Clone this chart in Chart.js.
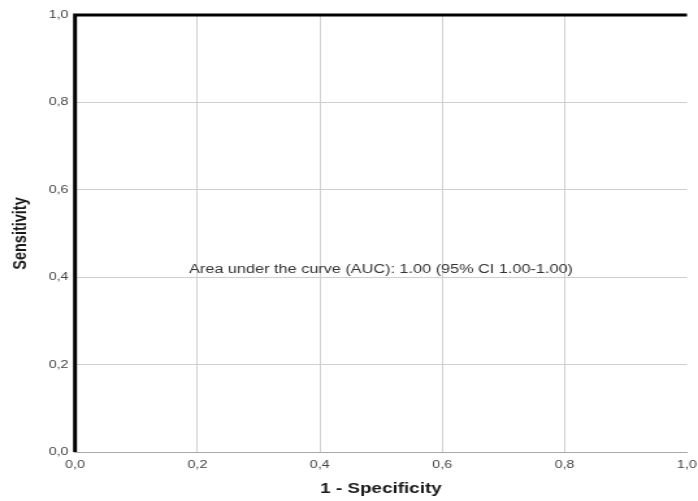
<!DOCTYPE html>
<html>
<head>
<meta charset="utf-8">
<script src="https://cdn.jsdelivr.net/npm/chart.js@4/dist/chart.umd.min.js"></script>
<style>
  html, body { margin: 0; padding: 0; background: #ffffff; overflow: hidden; }
  #wrap { width: 698px; height: 501px; overflow: hidden; }
  /* the figure is laid out narrower and widened to the page width */
  #roc { display: block; transform: scaleX(1.2998); transform-origin: 0 0; }
</style>
</head>
<body>
<div id="wrap"><canvas id="roc" width="537" height="501"></canvas></div>
<script>
// ROC curve points: false positive rate (1 - specificity) vs sensitivity
const falsePositiveRate = [0, 0, 1];
const truePositiveRate = [0, 1, 1];

// axis ticks
const tickValues = [0, 0.2, 0.4, 0.6, 0.8, 1.0];
const tickLabels = ['0,0', '0,2', '0,4', '0,6', '0,8', '1,0'];

// area under the curve with its 95% confidence interval
const auc = 1.00;
const aucCiLow = 1.00;
const aucCiHigh = 1.00;
const aucLabelPos = { x: 0.5, y: 0.418 };

const aucText = 'Area under the curve (AUC): ' + auc.toFixed(2) +
  ' (95% CI ' + aucCiLow.toFixed(2) + '-' + aucCiHigh.toFixed(2) + ')';

const FONT = "'Liberation Sans', Arial, sans-serif";

const aucLabel = {
  id: 'aucLabel',
  afterDatasetsDraw(chart) {
    const { ctx, scales } = chart;
    const x = scales.x.getPixelForValue(aucLabelPos.x);
    const y = scales.y.getPixelForValue(aucLabelPos.y);
    ctx.save();
    ctx.font = '12.5px ' + FONT;
    ctx.fillStyle = '#333333';
    ctx.textAlign = 'center';
    ctx.textBaseline = 'middle';
    ctx.fillText(aucText, x, y);
    ctx.restore();
  }
};

const fixedTicks = (scale) => {
  scale.ticks = tickValues.map(v => ({ value: v }));
};
const tickLabel = (value) => {
  const i = tickValues.findIndex(v => Math.abs(v - value) < 1e-9);
  return i >= 0 ? tickLabels[i] : '';
};

new Chart(document.getElementById('roc'), {
  type: 'scatter',
  data: {
    datasets: [{
      data: falsePositiveRate.map((x, i) => ({ x: x, y: truePositiveRate[i] })),
      showLine: true,
      borderColor: '#000000',
      borderWidth: 3,
      pointRadius: 0,
      tension: 0,
      fill: false,
      clip: false
    }]
  },
  options: {
    responsive: false,
    animation: false,
    events: [],
    layout: { padding: { top: 15, right: 8.5, left: 0, bottom: 0 } },
    plugins: { legend: { display: false }, tooltip: { enabled: false } },
    scales: {
      x: {
        type: 'linear',
        min: 0, max: 1,
        afterBuildTicks: fixedTicks,
        afterFit: (s) => { s.height = 49; s.paddingLeft = 0; s.paddingRight = 0; },
        grid: {
          drawTicks: false,
          lineWidth: 1,
          color: (c) => (c.tick && c.tick.value >= 1) ? 'rgba(0,0,0,0)' : '#cfcfcf'
        },
        border: { display: true, color: '#a8a8a8', width: 1 },
        ticks: {
          padding: 6,
          maxRotation: 0,
          autoSkip: false,
          color: '#444444',
          font: { family: FONT, size: 11 },
          callback: tickLabel
        },
        title: {
          display: true,
          text: '1 - Specificity',
          color: '#1a1a1a',
          font: { family: FONT, size: 14.5, weight: 'bold' },
          padding: { top: 0, bottom: 3 }
        }
      },
      y: {
        type: 'linear',
        min: 0, max: 1,
        afterBuildTicks: fixedTicks,
        afterFit: (s) => { s.width = 57.7; s.paddingTop = 0; s.paddingBottom = 0; },
        grid: {
          drawTicks: false,
          lineWidth: 1,
          color: '#cfcfcf'
        },
        border: { display: false },
        ticks: {
          padding: 5,
          autoSkip: false,
          color: '#444444',
          font: { family: FONT, size: 11 },
          callback: tickLabel
        },
        title: {
          display: true,
          text: 'Sensitivity',
          color: '#1a1a1a',
          font: { family: FONT, size: 14.5, weight: 'bold' },
          padding: { top: 7, bottom: 0 }
        }
      }
    }
  },
  plugins: [aucLabel]
});
</script>
</body>
</html>
